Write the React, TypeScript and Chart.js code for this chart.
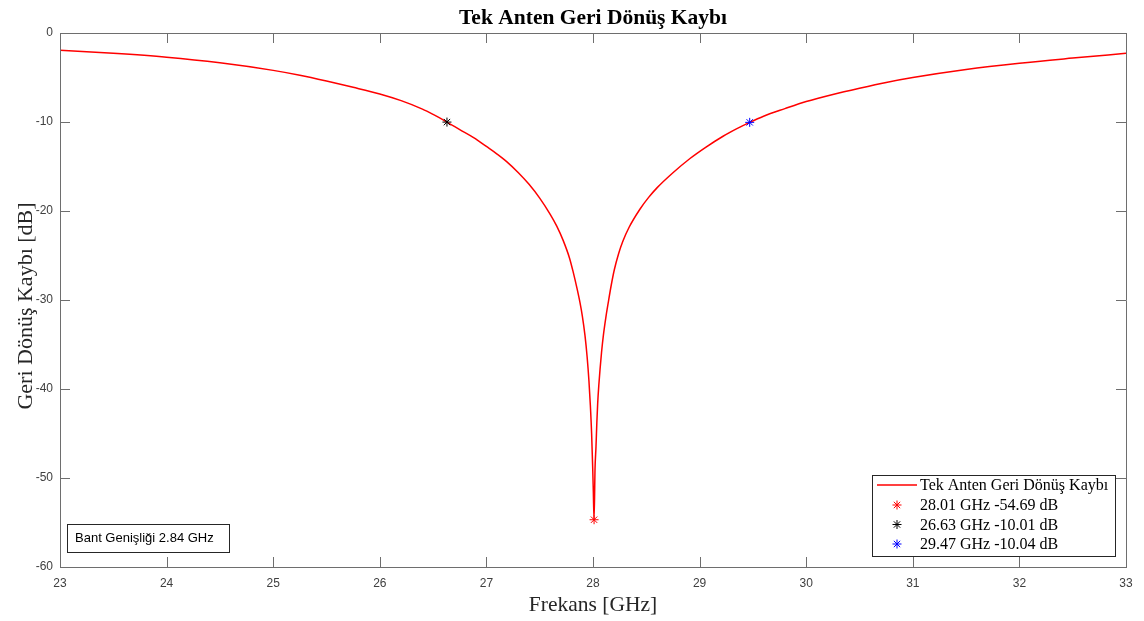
import React, { useEffect, useRef } from "react";
import { Chart, registerables } from "chart.js";

Chart.register(...registerables);

// ---- data (frequency in GHz, return loss in dB) ----
const freqGHz = [
  23.0, 23.5, 24.0, 24.5, 25.0, 25.25, 25.5, 25.75, 26.0, 26.2, 26.4, 26.5,
  26.63, 26.75, 26.88, 27.0, 27.1, 27.19, 27.3, 27.4, 27.5, 27.6, 27.66, 27.72,
  27.78, 27.815, 27.85, 27.878, 27.9, 27.925, 27.945, 27.962, 27.975, 27.987,
  27.997, 28.003, 28.01, 28.019, 28.028, 28.036, 28.044, 28.055, 28.066, 28.08,
  28.097, 28.12, 28.143, 28.17, 28.2, 28.24, 28.28, 28.34, 28.44, 28.52, 28.6,
  28.75, 28.91, 29.05, 29.22, 29.35, 29.47, 29.6, 29.8, 30.0, 30.25, 30.5,
  30.75, 31.0, 31.5, 32.0, 32.5, 33.0,
];
const returnLossDb = [
  -1.94, -2.28, -2.72, -3.35, -4.2, -4.75, -5.4, -6.1, -6.85, -7.6, -8.55, -9.15,
  -10.01, -10.85, -11.75, -12.75, -13.6, -14.45, -15.7, -17.0, -18.55, -20.4, -21.7,
  -23.3, -25.3, -26.9, -28.7, -30.3, -31.8, -34.0, -36.4, -39.1, -41.8, -45.0,
  -48.8, -51.5, -54.69, -49.0, -46.5, -43.8, -41.6, -39.5, -37.8, -35.9, -34.0,
  -32.0, -30.3, -28.4, -26.6, -24.8, -23.4, -21.8, -19.8, -18.5, -17.4, -15.7,
  -14.1, -12.9, -11.6, -10.75, -10.04, -9.35, -8.5, -7.7, -6.9, -6.2, -5.55,
  -5.0, -4.1, -3.4, -2.82, -2.28,
];
const markerFreqs = [28.01, 26.63, 29.47];
const markerDb = [-54.69, -10.01, -10.04];
const markerColors = ["#ff0000", "#000000", "#0000ff"];
const legendLabels = [
  "Tek Anten Geri Dönüş Kaybı",
  "28.01 GHz -54.69 dB",
  "26.63 GHz -10.01 dB",
  "29.47 GHz -10.04 dB",
];
const xTicks = [23, 24, 25, 26, 27, 28, 29, 30, 31, 32, 33];
const yTicks = [0, -10, -20, -30, -40, -50, -60];
const chartTitle = "Tek Anten Geri Dönüş Kaybı";
const xTitle = "Frekans [GHz]";
const yTitle = "Geri Dönüş Kaybı [dB]";
const bandwidthNote = "Bant Genişliği 2.84 GHz";

const SERIF = "'Liberation Serif', 'Times New Roman', serif";
const SANS = "'Liberation Sans', Arial, sans-serif";
const AXIS_COLOR = "#6e6e6e";
const TICK_COLOR = "#404040";

const drawStar = (ctx: CanvasRenderingContext2D, x: number, y: number, r: number, color: string) => {
  ctx.save();
  ctx.strokeStyle = color;
  ctx.lineWidth = 1;
  ctx.beginPath();
  for (let k = 0; k < 4; k++) {
    const a = (k * Math.PI) / 4;
    ctx.moveTo(x - r * Math.cos(a), y - r * Math.sin(a));
    ctx.lineTo(x + r * Math.cos(a), y + r * Math.sin(a));
  }
  ctx.stroke();
  ctx.restore();
};

const framePlugin = {
  id: "matlabFrame",
  afterDraw(chart: any) {
    const { ctx, chartArea } = chart;
    const { left, right, top, bottom } = chartArea;
    const xs = chart.scales.x;
    const ys = chart.scales.y;
    ctx.save();

    // title, centred over the axes
    ctx.fillStyle = "#000000";
    ctx.font = `bold 21.5px ${SERIF}`;
    ctx.textAlign = "center";
    ctx.textBaseline = "alphabetic";
    ctx.fillText(chartTitle, (left + right) / 2, 23.5);

    // y axis title
    ctx.save();
    ctx.translate(32, (top + bottom) / 2 + 6);
    ctx.rotate(-Math.PI / 2);
    ctx.fillStyle = "#262626";
    ctx.font = `22px ${SERIF}`;
    ctx.textAlign = "center";
    ctx.textBaseline = "alphabetic";
    ctx.fillText(yTitle, 0, 0);
    ctx.restore();

    // box and inward ticks
    ctx.strokeStyle = AXIS_COLOR;
    ctx.lineWidth = 1;
    ctx.beginPath();
    ctx.rect(Math.round(left) + 0.5, Math.round(top) + 0.5, Math.round(right - left), Math.round(bottom - top));
    ctx.stroke();
    const tl = 10;
    ctx.beginPath();
    xTicks.forEach((t) => {
      const px = Math.round(xs.getPixelForValue(t)) + 0.5;
      ctx.moveTo(px, bottom);
      ctx.lineTo(px, bottom - tl);
      ctx.moveTo(px, top);
      ctx.lineTo(px, top + tl);
    });
    yTicks.forEach((t) => {
      const py = Math.round(ys.getPixelForValue(t)) + 0.5;
      ctx.moveTo(left, py);
      ctx.lineTo(left + tl, py);
      ctx.moveTo(right, py);
      ctx.lineTo(right - tl, py);
    });
    ctx.stroke();

    // bandwidth annotation box
    ctx.fillStyle = "#ffffff";
    ctx.strokeStyle = "#262626";
    ctx.fillRect(67.5, 524.5, 162, 28);
    ctx.strokeRect(67.5, 524.5, 162, 28);
    ctx.fillStyle = "#000000";
    ctx.font = `13px ${SANS}`;
    ctx.textBaseline = "middle";
    ctx.textAlign = "left";
    ctx.fillText(bandwidthNote, 75, 538.5);

    // legend box
    const lx = 872.5, ly = 475.5, lw = 243, lh = 81;
    ctx.fillStyle = "#ffffff";
    ctx.fillRect(lx, ly, lw, lh);
    ctx.strokeStyle = "#262626";
    ctx.strokeRect(lx, ly, lw, lh);
    const rowY = [485, 505, 524.5, 544];
    ctx.font = `16px ${SERIF}`;
    legendLabels.forEach((lab, i) => {
      const y = rowY[i];
      if (i === 0) {
        ctx.strokeStyle = "#ff0000";
        ctx.lineWidth = 1.5;
        ctx.beginPath();
        ctx.moveTo(877, y);
        ctx.lineTo(917, y);
        ctx.stroke();
      } else {
        drawStar(ctx, 897, y, 4.5, markerColors[i - 1]);
      }
      ctx.fillStyle = "#000000";
      ctx.fillText(lab, 920, y + 1);
    });
    ctx.restore();
  },
};

export default function App() {
  const canvasRef = useRef<HTMLCanvasElement | null>(null);

  useEffect(() => {
    document.body.style.margin = "0";
    const canvas = canvasRef.current;
    if (!canvas) return;

    const datasets: any[] = [
      {
        label: legendLabels[0],
        data: freqGHz.map((f, i) => ({ x: f, y: returnLossDb[i] })),
        borderColor: "#ff0000",
        borderWidth: 1.5,
        pointRadius: 0,
        cubicInterpolationMode: "monotone",
        fill: false,
        order: 2,
      },
    ];
    markerFreqs.forEach((f, i) => {
      datasets.push({
        label: legendLabels[i + 1],
        data: [{ x: f, y: markerDb[i] }],
        showLine: false,
        pointStyle: "star",
        pointRadius: 4.5,
        borderColor: markerColors[i],
        backgroundColor: markerColors[i],
        borderWidth: 1,
        order: 1,
      });
    });

    const chart = new Chart(canvas, {
      type: "line",
      data: { datasets },
      options: {
        responsive: false,
        animation: false,
        layout: { padding: { left: 0, right: 18, top: 33, bottom: 0 } },
        plugins: {
          legend: { display: false },
          tooltip: { enabled: false },
          title: { display: false },
        },
        scales: {
          x: {
            type: "linear",
            min: 23,
            max: 33,
            afterBuildTicks: (s: any) => {
              s.ticks = xTicks.map((v) => ({ value: v }));
            },
            afterFit: (s: any) => {
              s.height = 54;
            },
            ticks: {
              color: TICK_COLOR,
              font: { family: SANS, size: 12 },
              padding: 9,
              maxRotation: 0,
              autoSkip: false,
            },
            grid: { display: true, drawOnChartArea: false, drawTicks: false, color: "rgba(0,0,0,0)" },
            border: { display: true, color: AXIS_COLOR },
            title: {
              display: true,
              text: xTitle,
              color: "#262626",
              font: { family: SERIF, size: 21.5, lineHeight: 1.2 },
              padding: { top: 0, bottom: 3 },
            },
          },
          y: {
            type: "linear",
            min: -60,
            max: 0,
            afterBuildTicks: (s: any) => {
              s.ticks = yTicks.map((v) => ({ value: v }));
            },
            afterFit: (s: any) => {
              s.width = 60;
            },
            ticks: {
              color: TICK_COLOR,
              font: { family: SANS, size: 12 },
              padding: 7,
              autoSkip: false,
            },
            grid: { display: true, drawOnChartArea: false, drawTicks: false, color: "rgba(0,0,0,0)" },
            border: { display: true, color: AXIS_COLOR },
            title: { display: false },
          },
        },
      } as any,
      plugins: [framePlugin],
    });

    return () => chart.destroy();
  }, []);

  return (
    <div style={{ width: 1144, height: 621 }}>
      <canvas ref={canvasRef} width={1144} height={621} style={{ display: "block" }} />
    </div>
  );
}
